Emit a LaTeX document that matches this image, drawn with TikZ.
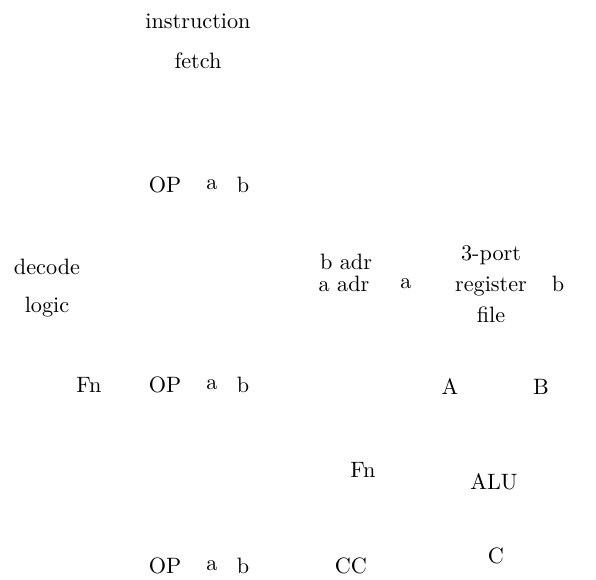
\documentclass[tikz,border=0pt]{standalone}
\usepackage{amsmath}

\begin{document}
\begin{tikzpicture}[x=0.45pt,y=-0.45pt,
    lbl/.style={inner sep=1pt,align=center}]
      \useasboundingbox (0,0) rectangle (596,580);
      \node[lbl] (fetch) at (198,41) {instruction\\[6pt]fetch};
      \node[lbl] (op1) at (165,185) {OP};
      \node[lbl] (a1) at (212,185) {a};
      \node[lbl] (b1) at (243,185) {b};
      \node[lbl] (decode) at (47,288) {decode\\[5pt]logic};
      \node[lbl] (badr) at (346,262) {b adr};
      \node[lbl] (aadr) at (344,284) {a adr};
      \node[lbl] (areg) at (406,284) {a};
      \node[lbl] (regfile) at (491,284) {3-port\\[2pt]register\\[2pt]file};
      \node[lbl] (breg) at (558,284) {b};
      \node[lbl] (fn1) at (89,385) {Fn};
      \node[lbl] (op2) at (165,385) {OP};
      \node[lbl] (a2) at (212,385) {a};
      \node[lbl] (b2) at (243,385) {b};
      \node[lbl] (A) at (450,387) {A};
      \node[lbl] (B) at (541,387) {B};
      \node[lbl] (fn2) at (363,470) {Fn};
      \node[lbl] (alu) at (494,482) {ALU};
      \node[lbl] (op3) at (165,566) {OP};
      \node[lbl] (a3) at (212,566) {a};
      \node[lbl] (b3) at (243,566) {b};
      \node[lbl] (cc) at (351,566) {CC};
      \node[lbl] (C) at (496,556) {C};
\end{tikzpicture}
\end{document}
